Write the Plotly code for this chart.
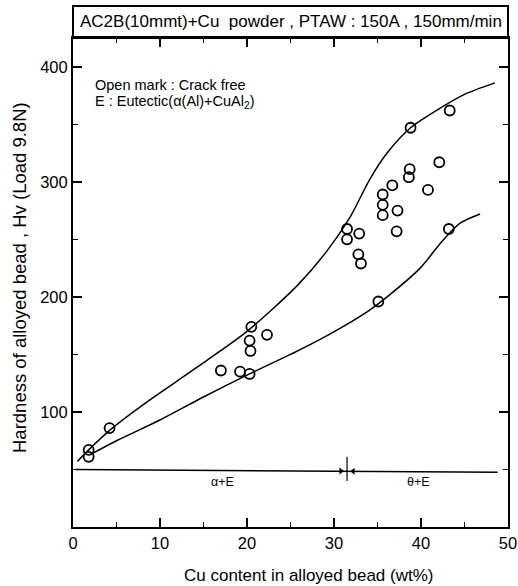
import plotly.graph_objects as go

# Measured points (Cu wt%, Hv)
cu_pts = [1.8, 1.8, 4.2, 17.0, 19.2, 20.3, 20.5, 20.3, 20.4, 22.3,
          31.5, 31.5, 32.9, 32.8, 33.1, 35.1, 35.6, 35.6, 35.6, 36.7,
          37.3, 37.2, 38.7, 38.6, 40.8, 42.1, 43.2, 38.8, 43.3]
hv_pts = [67, 61, 86, 136, 135, 133, 174, 162, 153, 167,
          259, 250, 255, 237, 229, 196, 289, 280, 271, 297,
          275, 257, 311, 304, 293, 317, 259, 347, 362]

# Upper / lower band curves (hand-drawn envelope)
upper_x = [0.5, 1.8, 4.2, 8, 12, 16, 20, 25.8, 29.2, 31.9, 34.1, 36.1, 38.8, 42.2, 45, 48.5]
upper_y = [57, 67, 84, 106, 127, 148, 170, 210, 240, 270, 302, 325, 347, 364, 376, 386]
lower_x = [2.0, 5, 10, 15, 20, 25, 28.4, 33.8, 36.1, 39.9, 42.5, 44.5, 46.8]
lower_y = [63, 75, 93, 113, 132, 150, 163, 187, 200, 225, 249, 264, 272]

# Phase boundary line
phase_x = [0.3, 48.8]
phase_y = [50, 47.5]
boundary_cu = 31.5
arrow_x = [30.8, 32.2]
arrow_y = [48.7, 48.5]
arrow_symbols = ["triangle-right", "triangle-left"]
phase_labels = ["α+E", "θ+E"]
phase_label_x = [17.2, 39.7]

title_text = "AC2B(10mmt)+Cu  powder , PTAW : 150A , 150mm/min"
note_lines = ["Open mark : Crack free", "E : Eutectic(α(Al)+CuAl<sub>2</sub>)"]

FONT = "Liberation Sans, Arial, sans-serif"
W, H = 518, 586
L, R, T, B = 73, 10, 38, 59
PH = H - T - B
PW = W - L - R

fig = go.Figure()
curve_line = dict(color="black", width=1.5, shape="spline", smoothing=0.8)
fig.add_trace(go.Scatter(x=upper_x, y=upper_y, mode="lines", line=curve_line, hoverinfo="skip"))
fig.add_trace(go.Scatter(x=lower_x, y=lower_y, mode="lines", line=curve_line, hoverinfo="skip"))
fig.add_trace(go.Scatter(x=phase_x, y=phase_y, mode="lines", line=dict(color="black", width=1.5), hoverinfo="skip"))
fig.add_trace(go.Scatter(x=[boundary_cu, boundary_cu], y=[40, 61], mode="lines", line=dict(color="black", width=1.2), hoverinfo="skip"))
fig.add_trace(go.Scatter(x=arrow_x, y=arrow_y, mode="markers", hoverinfo="skip",
                         marker=dict(symbol=arrow_symbols, size=6, color="black")))
fig.add_trace(go.Scatter(x=cu_pts, y=hv_pts, mode="markers",
                         marker=dict(symbol="circle-open", size=10, color="black", line=dict(width=1.8, color="black"))))

annotations = []
for lx, lt in zip(phase_label_x, phase_labels):
    annotations.append(dict(x=lx, y=39, xref="x", yref="y", text=lt, showarrow=False, font=dict(family=FONT, size=12.5, color="black")))
for i, t in enumerate(note_lines):
    annotations.append(dict(x=2.3, y=384 - 15 * i, xref="x", yref="y", text=t, showarrow=False, xanchor="left", yanchor="middle", font=dict(family=FONT, size=14.5, color="black")))
# title in box
annotations.append(dict(x=0.5, y=1 + 16 / PH, xref="paper", yref="paper", text=title_text, showarrow=False, xanchor="center", yanchor="middle", font=dict(family=FONT, size=17, color="black")))
# axis titles
annotations.append(dict(x=(19 - L) / PW, y=(H - B - 278) / PH, xref="paper", yref="paper", text="Hardness of alloyed bead , Hv (Load 9.8N)", textangle=-90, showarrow=False, xanchor="center", yanchor="middle", font=dict(family=FONT, size=18.5, color="black")))
annotations.append(dict(x=(308 - L) / PW, y=-(575 - (H - B)) / PH, xref="paper", yref="paper", text="Cu content in alloyed bead (wt%)", showarrow=False, xanchor="center", yanchor="middle", font=dict(family=FONT, size=17, color="black")))

fig.update_layout(
    width=W, height=H,
    margin=dict(l=L, r=R, t=T, b=B, pad=0, autoexpand=False),
    paper_bgcolor="white", plot_bgcolor="white",
    showlegend=False,
    font=dict(family=FONT, size=16, color="black"),
    annotations=annotations,
    shapes=[dict(type="rect", xref="paper", yref="paper", x0=0, x1=1, y0=1, y1=1 + 32 / PH, line=dict(color="black", width=2))],
)
fig.update_xaxes(range=[0, 50], tick0=0, dtick=10, ticks="inside", ticklen=9, tickwidth=1.5, tickcolor="black",
                 minor=dict(dtick=5, ticks="inside", ticklen=5, tickwidth=1.2, tickcolor="black"),
                 showline=True, linecolor="black", linewidth=2, mirror="ticks", showgrid=False, zeroline=False,
                 automargin=False, tickfont=dict(family=FONT, size=16.5))
fig.update_yaxes(range=[0, 425], tickvals=[100, 200, 300, 400], ticks="inside", ticklen=9, tickwidth=1.5, tickcolor="black",
                 minor=dict(dtick=50, ticks="inside", ticklen=5, tickwidth=1.2, tickcolor="black"),
                 showline=True, linecolor="black", linewidth=2, mirror="ticks", showgrid=False, zeroline=False,
                 automargin=False, tickfont=dict(family=FONT, size=16.5))

fig.write_html("out.html", config={"displayModeBar": False},
               post_script="document.body.style.margin='0';document.body.style.overflow='hidden';")
